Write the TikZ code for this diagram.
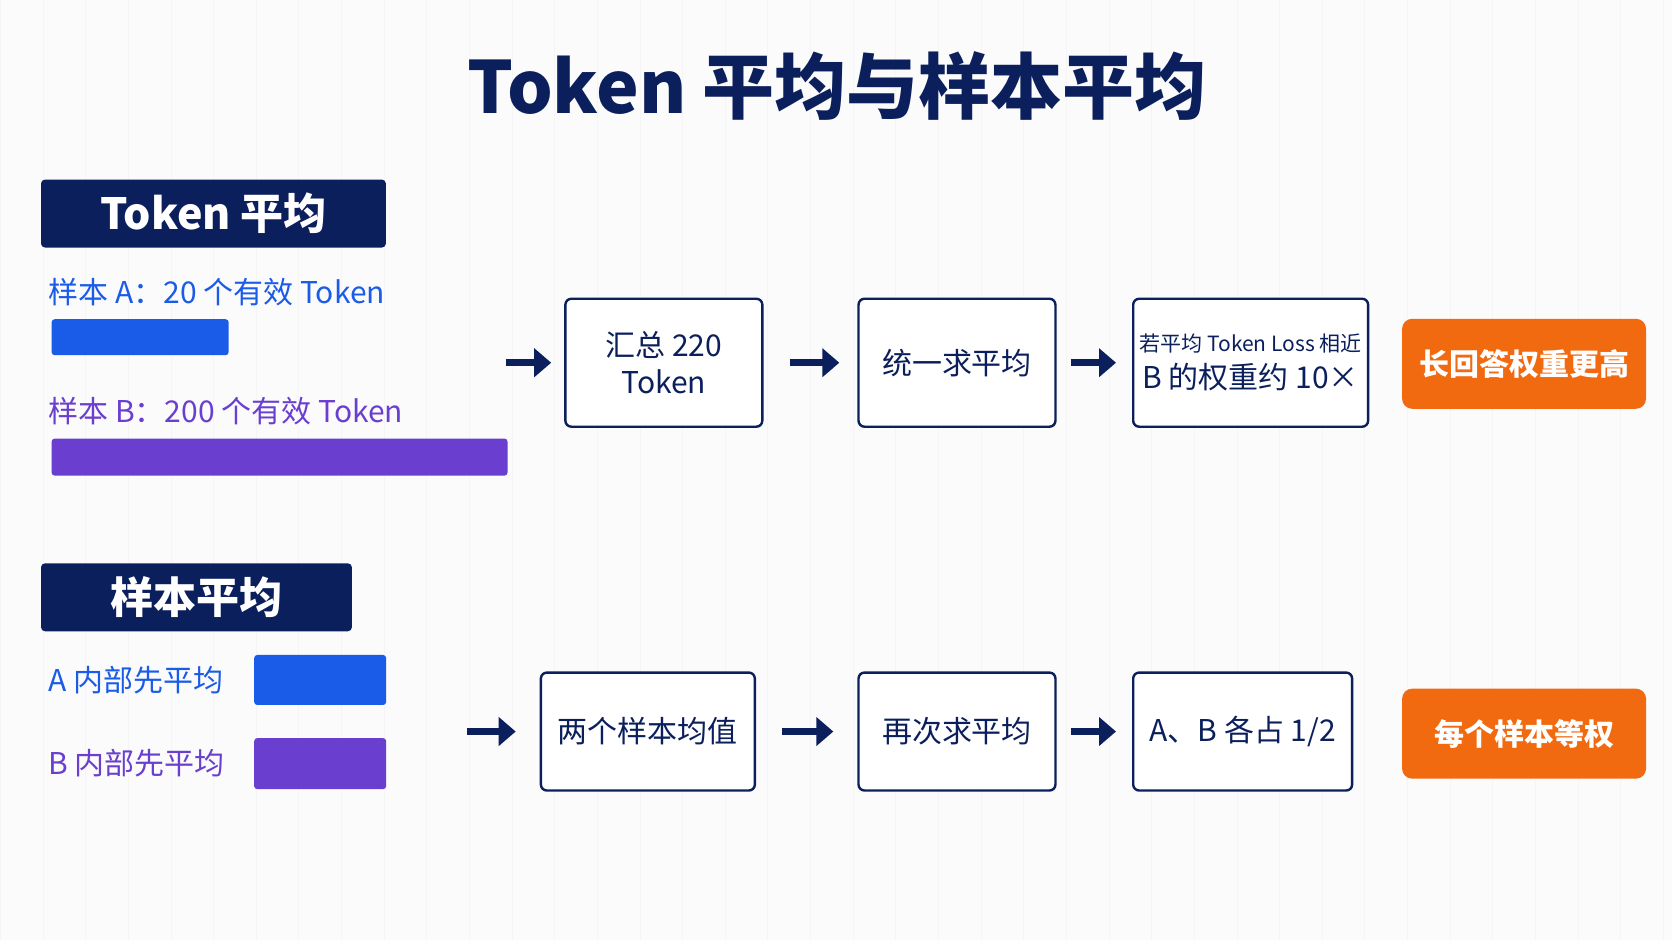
\documentclass[tikz,border=0pt]{standalone}
\usepackage{fontspec}
\setmainfont{Noto Sans CJK SC}
\usetikzlibrary{arrows.meta}
\definecolor{navy}{HTML}{0B1F5C}
\definecolor{blueA}{HTML}{1A5CE8}
\definecolor{purpB}{HTML}{6A3FD0}
\definecolor{orng}{HTML}{F26A10}
\begin{document}
\begin{tikzpicture}[x=1.0663pt,y=-1.0663pt,
    header/.style = {fill = navy, rounded corners = 4pt, text = white, font = \fontsize{43}{47}\selectfont\bfseries, anchor = north west},
    stage/.style = {draw = navy, line width = 2.4pt, rounded corners = 6pt, fill = white, text = navy, align = center, font = \fontsize{30}{37}\selectfont},
    result/.style = {fill = orng, rounded corners = 10pt, text = white, font = \fontsize{30}{34}\selectfont\bfseries, minimum width = 244pt, minimum height = 90pt},
    bar/.style = {rounded corners = 3pt, anchor = north west},
    lbl/.style = {anchor = west, font = \fontsize{30}{34}\selectfont},
    flow/.style = {-{Triangle[length=17pt,width=28pt]}, line width = 7.5pt, draw = navy},
    ]
    \fill[white!97!gray] (0,0) rectangle (1568,882);
    \draw[gray!8, line width = 0.6pt, step = 40] (0,0) grid (1568,882);
    \useasboundingbox (0,0) rectangle (1568,882);

    \node[text = navy, font = \fontsize{72}{76}\selectfont\bfseries] (title) at (785, 80) {Token 平均与样本平均};

    % Token average
    \node[header, minimum width = 345pt, minimum height = 68pt] (h1) at (38, 168) {Token 平均};
    \node[lbl, text = blueA] (la) at (42, 274) {样本 A：20 个有效 Token};
    \node[bar, fill = blueA, minimum width = 177pt, minimum height = 36pt] (ba) at (48, 299) {};
    \node[lbl, text = purpB] (lb) at (42, 385) {样本 B：200 个有效 Token};
    \node[bar, fill = purpB, minimum width = 456pt, minimum height = 37pt] (bb) at (48, 411) {};

    \coordinate (s1) at (474, 340);
    \node[stage, minimum width = 197pt, minimum height = 128pt] (t1) at (622.5, 340) {汇总 220\\Token};
    \node[stage, minimum width = 197pt, minimum height = 128pt] (t2) at (897.5, 340) {统一求平均};
    \node[stage, minimum width = 235pt, minimum height = 128pt] (t3) at (1173, 340) {{\fontsize{21}{28}\selectfont 若平均 Token Loss 相近}\\B 的权重约 10×};
    \node[result] (r1) at (1429.5, 341) {长回答权重更高};

    \draw[flow, shorten >= 13pt] (s1) -- (t1);
    \draw[flow, shorten <= 26pt, shorten >= 18pt] (t1) -- (t2);
    \draw[flow, shorten <= 14pt, shorten >= 16pt] (t2) -- (t3);

    % sample average
    \node[header, minimum width = 311pt, minimum height = 68pt] (h2) at (38, 528) {样本平均};
    \node[lbl, text = blueA] (ma) at (42, 638) {A 内部先平均};
    \node[bar, fill = blueA, minimum width = 132pt, minimum height = 50pt] (pa) at (238, 614) {};
    \node[lbl, text = purpB] (mb) at (42, 716) {B 内部先平均};
    \node[bar, fill = purpB, minimum width = 132pt, minimum height = 51pt] (pb) at (238, 692) {};

    \coordinate (s2) at (438, 686);
    \node[stage, minimum width = 214pt, minimum height = 118pt] (u1) at (607.5, 686) {两个样本均值};
    \node[stage, minimum width = 197pt, minimum height = 118pt] (u2) at (897.5, 686) {再次求平均};
    \node[stage, minimum width = 219pt, minimum height = 118pt] (u3) at (1165.5, 686) {A、B 各占 1/2};
    \node[result] (r2) at (1429.5, 688) {每个样本等权};

    \draw[flow, shorten >= 24pt] (s2) -- (u1);
    \draw[flow, shorten <= 26pt, shorten >= 24pt] (u1) -- (u2);
    \draw[flow, shorten <= 14pt, shorten >= 16pt] (u2) -- (u3);
\end{tikzpicture}
\end{document}
